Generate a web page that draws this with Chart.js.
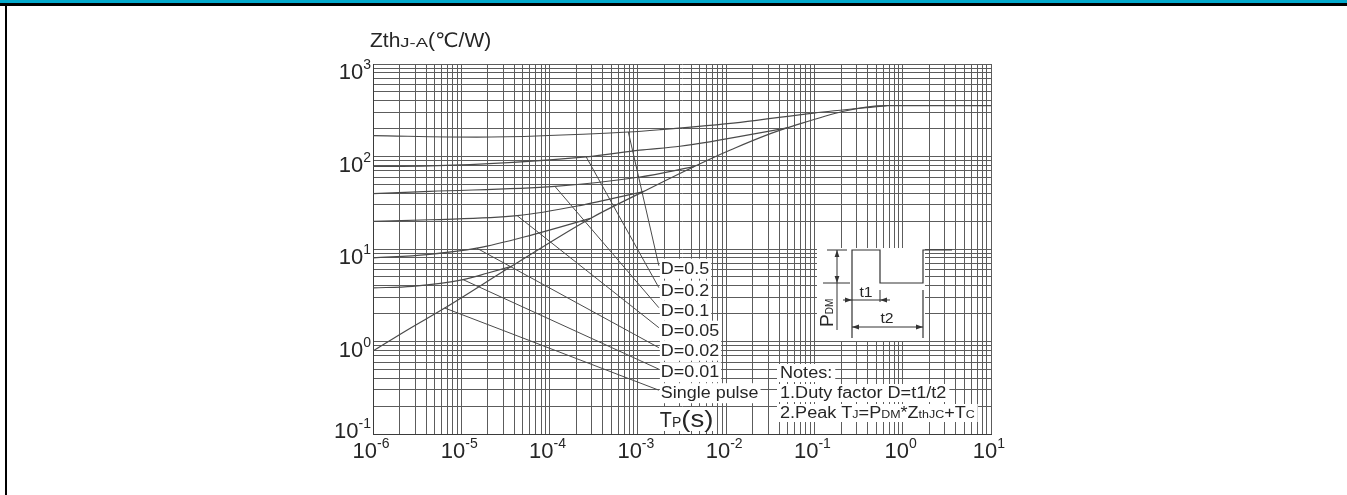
<!DOCTYPE html>
<html>
<head>
<meta charset="utf-8">
<title>Transient thermal impedance</title>
<style>
  html, body { margin: 0; padding: 0; background: #fff; }
  #wrap { position: relative; width: 1347px; height: 495px; overflow: hidden; background: #fff; }
  #c { position: absolute; left: 0; top: 0; }
  #topbar { position: absolute; left: 0; top: 0; width: 1347px; height: 3px; background: #03aacd; }
  #topline { position: absolute; left: 0; top: 3px; width: 1347px; height: 3px; background: #000; }
  #leftline { position: absolute; left: 5px; top: 3px; width: 2px; height: 492px; background: #000; }
</style>
<script src="https://cdn.jsdelivr.net/npm/chart.js@4.4.1/dist/chart.umd.min.js"></script>
</head>
<body>
<div id="wrap">
  <canvas id="c" width="1347" height="495"></canvas>
  <div id="topbar"></div>
  <div id="topline"></div>
  <div id="leftline"></div>
</div>
<script>
// Axis decades (exponents of ten) for pulse time and thermal impedance
const xDecades = [-6, -5, -4, -3, -2, -1, 0, 1];
const yDecades = [-1, 0, 1, 2, 3];

// Single pulse Zth(J-A), seconds -> °C/W
const singleT = [1e-6, 2.5e-6, 6.5e-6, 3.7e-5, 2.9e-4, 1.15e-3, 4.3e-3, 1.1e-2, 4.9e-2, 0.66, 10];
const singleZ = [0.79, 1.35, 2.3, 6.5, 21.4, 41.7, 77.6, 117, 204, 355, 355];

// Duty factor curves (each joins the single pulse curve)
const d50T = [1e-6, 1.5e-5, 7.8e-4, 1.8e-3, 1.45e-2, 9.8e-2, 0.66];
const d50Z = [168, 162, 184, 195, 234, 295, 355];
const d20T = [1e-6, 4.4e-6, 2.6e-4, 1.05e-3, 3.0e-3, 4.9e-2];
const d20Z = [78, 79, 99, 117, 129, 204];
const d10T = [1e-6, 4.4e-6, 1.15e-4, 1.05e-3, 4.3e-3];
const d10Z = [39.6, 42, 47.5, 60, 77.6];
const d05T = [1e-6, 4.4e-6, 4.3e-5, 2.2e-4, 1.15e-3];
const d05Z = [19.9, 20.7, 22.9, 29.5, 41.7];
const d02T = [1e-6, 4.1e-6, 1.5e-5, 6.5e-5, 2.9e-4];
const d02Z = [8.0, 8.7, 10.2, 14.3, 21.4];
const d01T = [1e-6, 2.8e-6, 1.05e-5, 2.0e-5, 3.7e-5];
const d01Z = [3.8, 3.95, 4.66, 5.5, 6.5];

// Callout leaders: from a point on each curve to its label
const curveLabels = ['D=0.5', 'D=0.2', 'D=0.1', 'D=0.05', 'D=0.02', 'D=0.01', 'Single pulse'];
const leaderFromT = [7.8e-4, 2.6e-4, 1.15e-4, 4.3e-5, 1.5e-5, 1.05e-5, 6.5e-6];
const leaderFromZ = [184, 99, 47.5, 22.9, 10.2, 4.66, 2.3];
const leaderToT = [1.73e-3, 1.73e-3, 1.73e-3, 1.73e-3, 1.73e-3, 1.73e-3, 1.73e-3];
const leaderToZ = [6.6, 3.82, 2.32, 1.41, 0.857, 0.502, 0.2975];

const FONT = '"Liberation Sans", Arial, "DejaVu Sans", sans-serif';
const INK = '#262626';
const LINE = '#4a4a4a';

function zip(ts, zs) { return ts.map((t, i) => ({ x: t, y: zs[i] })); }

const curves = [[d50T, d50Z], [d20T, d20Z], [d10T, d10Z], [d05T, d05Z], [d02T, d02Z], [d01T, d01Z], [singleT, singleZ]];
const datasets = curves.map(([t, z]) => ({
  data: zip(t, z),
  borderColor: LINE, borderWidth: 1.2, pointRadius: 0, fill: false,
  cubicInterpolationMode: 'monotone'
}));
curveLabels.forEach((_, i) => {
  datasets.push({
    data: [{ x: leaderFromT[i], y: leaderFromZ[i] }, { x: leaderToT[i], y: leaderToZ[i] }],
    borderColor: LINE, borderWidth: 1, pointRadius: 0, fill: false, tension: 0
  });
});

// 1..9 x 10^n grid positions over the listed decades
function logGridTicks(decades) {
  const out = [];
  for (let i = 0; i < decades.length - 1; i++) {
    for (let m = 1; m < 10; m++) out.push({ value: m * Math.pow(10, decades[i]) });
  }
  out.push({ value: Math.pow(10, decades[decades.length - 1]) });
  return out;
}

// Text run with mixed sizes (sub/superscripts) and optional horizontal stretch
function partWidth(ctx, p) {
  ctx.font = p.size + 'px ' + FONT;
  return ctx.measureText(p.t).width * (p.sx || 1);
}
function runWidth(ctx, parts) {
  let w = 0;
  for (const p of parts) w += partWidth(ctx, p);
  return w;
}
function drawRun(ctx, parts, x, y, o) {
  o = o || {};
  const sx = o.sx || 1;
  const w = runWidth(ctx, parts) * sx;
  let x0 = x;
  if (o.align === 'right') x0 = x - w; else if (o.align === 'center') x0 = x - w / 2;
  if (o.bg) {
    ctx.fillStyle = '#fff';
    ctx.fillRect(x0 - o.bg[0], y - o.bg[1], w + o.bg[0] + o.bg[2], o.bg[1] + o.bg[3]);
  }
  ctx.save();
  ctx.translate(x0, y);
  ctx.scale(sx, 1);
  ctx.fillStyle = o.color || INK;
  ctx.textAlign = 'left';
  ctx.textBaseline = 'alphabetic';
  let cx = 0;
  for (const p of parts) {
    const pw = partWidth(ctx, p);
    ctx.save();
    ctx.translate(cx, p.dy || 0);
    ctx.scale(p.sx || 1, 1);
    ctx.font = p.size + 'px ' + FONT;
    ctx.fillText(p.t, 0, 0);
    ctx.restore();
    cx += pw;
  }
  ctx.restore();
  return { x0, w };
}

function seg(ctx, x1, y1, x2, y2) {
  ctx.beginPath(); ctx.moveTo(x1, y1); ctx.lineTo(x2, y2); ctx.stroke();
}
function arrowHead(ctx, tx, ty, dx, dy) {
  // tip at (tx,ty), pointing along (dx,dy)
  const L = 7, H = 2.4;
  const px = -dy, py = dx;
  ctx.beginPath();
  ctx.moveTo(tx, ty);
  ctx.lineTo(tx - dx * L + px * H, ty - dy * L + py * H);
  ctx.lineTo(tx - dx * L - px * H, ty - dy * L - py * H);
  ctx.closePath();
  ctx.fill();
}

const annotations = {
  id: 'annotations',
  afterDatasetsDraw(chart) {
    const ctx = chart.ctx;
    const ca = chart.chartArea;
    const xs = chart.scales.x, ys = chart.scales.y;
    ctx.save();

    // Axis title and decade labels
    drawRun(ctx, [{ t: 'Zth', size: 20 }, { t: 'J-A', size: 13, sx: 1.35 }, { t: '(\u2103/W)', size: 20 }],
      ca.left - 3, ca.top - 17, { sx: 1.05 });
    yDecades.forEach(e => {
      const py = ys.getPixelForValue(Math.pow(10, e));
      drawRun(ctx, [{ t: '10', size: 22 }, { t: String(e), size: 14, dy: -10 }],
        ca.left - 2, Math.min(py + 15, ca.bottom + 4), { align: 'right' });
    });
    xDecades.forEach(e => {
      const px = xs.getPixelForValue(Math.pow(10, e));
      drawRun(ctx, [{ t: '10', size: 22 }, { t: String(e), size: 14, dy: -10 }],
        px - 2, ca.bottom + 24, { align: 'center' });
    });

    // Curve labels at the leader ends
    curveLabels.forEach((s, i) => {
      const px = xs.getPixelForValue(leaderToT[i]);
      const py = ys.getPixelForValue(leaderToZ[i]);
      drawRun(ctx, [{ t: s, size: 16 }], px + 2, py + 8, { sx: 1.12, bg: [1, 15, 2, 5] });
    });

    // Time axis name
    const tp = xs.getPixelForValue(leaderToT[0]);
    drawRun(ctx, [{ t: 'T', size: 22, sx: 0.9 }, { t: 'P', size: 14 }, { t: '(s)', size: 24, sx: 1.15 }],
      tp + 1, ca.bottom - 7, { bg: [1, 20, 2, 4] });

    // Notes
    const nx = ca.left + 407, nb = ca.top + 314;
    drawRun(ctx, [{ t: 'Notes:', size: 16 }], nx, nb, { sx: 1.13, bg: [3, 14, 3, 4] });
    drawRun(ctx, [{ t: '1.Duty factor D=t1/t2', size: 16 }], nx, nb + 20, { sx: 1.13, bg: [3, 14, 3, 4] });
    drawRun(ctx, [
      { t: '2.Peak T', size: 16 }, { t: 'J', size: 11 }, { t: '=P', size: 16 }, { t: 'DM', size: 11 },
      { t: '*Z', size: 16 }, { t: 'thJC', size: 11 }, { t: '+T', size: 16 }, { t: 'C', size: 11 }
    ], nx, nb + 40, { sx: 1.13, bg: [3, 14, 3, 4] });

    // Pulse train inset
    const ox = ca.left + 444, oy = ca.top + 184;
    ctx.fillStyle = '#fff';
    ctx.fillRect(ox, oy, 108, 93);
    ctx.strokeStyle = '#333';
    ctx.fillStyle = '#333';
    ctx.lineWidth = 1.2;
    const hi = oy + 2, lo = oy + 35;
    // waveform
    ctx.beginPath();
    ctx.moveTo(ox + 35, oy + 90);
    ctx.lineTo(ox + 35, hi);
    ctx.lineTo(ox + 63, hi);
    ctx.lineTo(ox + 63, lo);
    ctx.lineTo(ox + 106, lo);
    ctx.lineTo(ox + 106, hi);
    ctx.lineTo(ox + 135, hi);
    ctx.stroke();
    seg(ctx, ox + 106, lo + 7, ox + 106, oy + 90);
    // P_DM dimension
    ctx.lineWidth = 1;
    seg(ctx, ox + 10, hi, ox + 30, hi);
    seg(ctx, ox + 6, lo, ox + 33, lo);
    seg(ctx, ox + 20, hi, ox + 20, oy + 82);
    arrowHead(ctx, ox + 20, hi, 0, -1);
    arrowHead(ctx, ox + 20, lo, 0, 1);
    // t1 dimension
    seg(ctx, ox + 63, lo + 7, ox + 63, oy + 54);
    seg(ctx, ox + 26, oy + 52, ox + 73, oy + 52);
    arrowHead(ctx, ox + 35, oy + 52, 1, 0);
    arrowHead(ctx, ox + 63, oy + 52, -1, 0);
    // t2 dimension
    seg(ctx, ox + 35, oy + 79, ox + 106, oy + 79);
    arrowHead(ctx, ox + 35, oy + 79, -1, 0);
    arrowHead(ctx, ox + 106, oy + 79, 1, 0);
    drawRun(ctx, [{ t: 't1', size: 15 }], ox + 49, oy + 49, { align: 'center', sx: 1.05 });
    drawRun(ctx, [{ t: 't2', size: 15 }], ox + 70, oy + 75, { align: 'center', sx: 1.05 });
    ctx.save();
    ctx.translate(ox + 16, oy + 79);
    ctx.rotate(-Math.PI / 2);
    drawRun(ctx, [{ t: 'P', size: 19 }, { t: 'DM', size: 10 }], 0, 0, {});
    ctx.restore();

    ctx.restore();
  }
};

const gridStyle = { color: '#5c5c5c', lineWidth: 1, drawTicks: false };

new Chart(document.getElementById('c'), {
  type: 'line',
  data: { datasets },
  options: {
    responsive: false,
    devicePixelRatio: 1,
    animation: false,
    events: [],
    layout: { padding: { left: 373, top: 64, right: 356, bottom: 61 } },
    plugins: { legend: { display: false }, tooltip: { enabled: false } },
    scales: {
      x: {
        type: 'logarithmic', min: 1e-6, max: 10,
        grid: gridStyle,
        border: { display: true, color: '#3a3a3a', width: 1 },
        ticks: { display: false, autoSkip: false },
        afterBuildTicks: s => { s.ticks = logGridTicks(xDecades); }
      },
      y: {
        type: 'logarithmic', min: 0.1, max: 1000,
        grid: gridStyle,
        border: { display: true, color: '#3a3a3a', width: 1 },
        ticks: { display: false, autoSkip: false },
        afterBuildTicks: s => { s.ticks = logGridTicks(yDecades); }
      }
    }
  },
  plugins: [annotations]
});
</script>
</body>
</html>
